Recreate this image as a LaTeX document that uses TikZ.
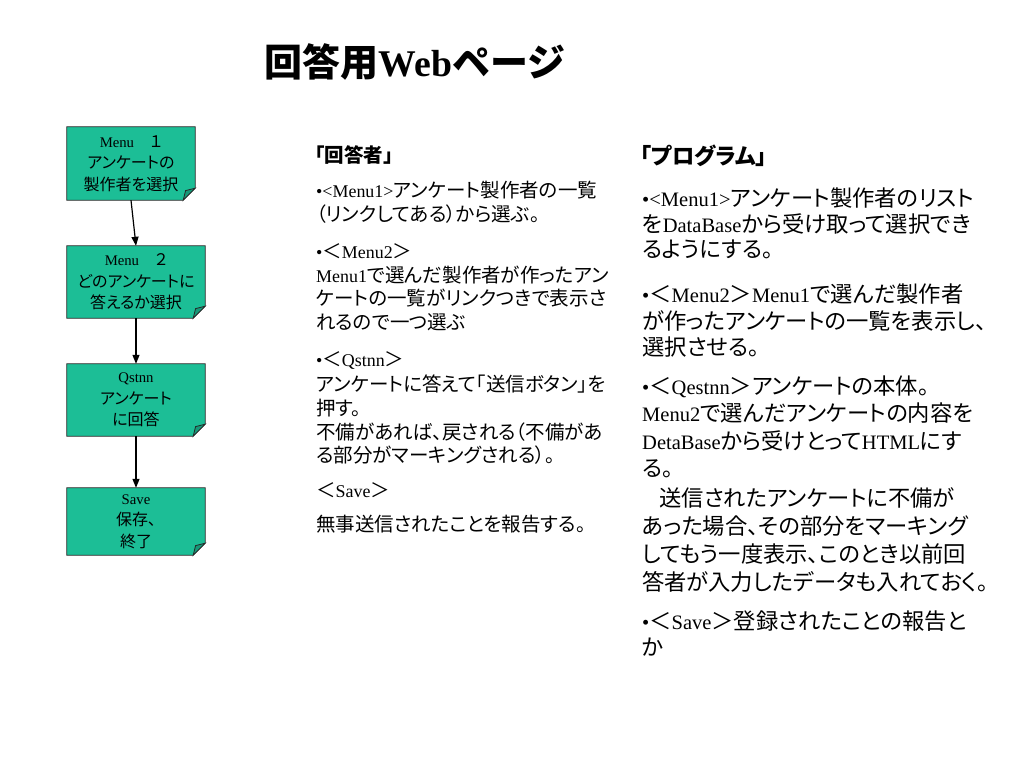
\documentclass[tikz,border=0pt]{standalone}
\usepackage{fontspec}
\setmainfont{Liberation Serif}[Scale=0.92]
\newfontfamily\jpfontP[RawFeature=+palt]{Noto Sans CJK JP}
\newfontfamily\jpfontM{Noto Sans CJK JP}
\let\jpfontcur\jpfontP
\usetikzlibrary{arrows.meta,backgrounds}
% automatic switching between Latin (serif) and Japanese (gothic)
\XeTeXinterchartokenstate=1
\newXeTeXintercharclass\cjkcls
\newcount\cjkc
\def\setcjkrange#1#2{\cjkc=#1 \loop\XeTeXcharclass\cjkc=\cjkcls\relax\ifnum\cjkc<#2 \advance\cjkc by 1 \repeat}
\setcjkrange{"3000}{"30FF}
\setcjkrange{"4E00}{"9FFF}
\setcjkrange{"FF00}{"FFEF}
\XeTeXinterchartoks 0 \cjkcls = {\jpfontcur}
\XeTeXinterchartoks 4095 \cjkcls = {\jpfontcur}
\XeTeXinterchartoks \cjkcls 0 = {\rmfamily}
\XeTeXinterchartoks 4095 0 = {\rmfamily}
\definecolor{boxteal}{RGB}{28,190,150}
\definecolor{foldteal}{RGB}{22,152,120}
\begin{document}
\begin{tikzpicture}[x=1pt,y=-1pt,
  box/.style={inner sep=0pt, align=center, font=\fontsize{16pt}{21.5pt}\selectfont},
  boxline/.style={fill=boxteal, draw=black!85, line width=0.8pt},
  foldline/.style={fill=foldteal, draw=black!85, line width=0.8pt},
  arr/.style={-{Triangle[length=9pt,width=7pt]}, line width=1.2pt},
  mid/.style={anchor=west, inner sep=0pt, font=\fontsize{19.5pt}{24pt}\selectfont, text height=17.2pt, text depth=2.3pt},
  rt/.style={anchor=west, inner sep=0pt, font=\fontsize{22.3pt}{27pt}\selectfont, text height=19.6pt, text depth=2.7pt},
  ttl/.style={inner sep=0pt, font=\let\jpfontcur\jpfontM\fontsize{38pt}{44pt}\selectfont\bfseries}]
\begin{scope}[on background layer]
\fill[white] (0,0) rectangle (1024,768);
\end{scope}
\useasboundingbox (0,0) rectangle (1024,768);

% title
\node[ttl] (title) at (415,62) {回答用{\fontsize{41pt}{44pt}\selectfont Web}ページ};

% flow boxes
\node[box, minimum width=128pt, minimum height=73pt] (b1) at (131,163.5) {Menu　１\\アンケートの\\製作者を選択};
\node[box, minimum width=138pt, minimum height=72pt] (b2) at (136,282) {Menu　２\\どのアンケートに\\答えるか選択};
\node[box, minimum width=138pt, minimum height=72pt] (b3) at (136,400) {Qstnn\\アンケート\\に回答};
\node[box, minimum width=138pt, minimum height=67pt] (b4) at (136,521.5) {Save\\保存、\\終了};
\begin{scope}[on background layer]
\foreach \n in {b1,b2,b3,b4} {
  \draw[boxline] (\n.north west) -- (\n.north east) -- ([yshift=12pt]\n.south east)
     -- ([xshift=-12pt]\n.south east) -- (\n.south west) -- cycle;
  \draw[foldline] ([xshift=-12pt]\n.south east) -- ([xshift=-9.6pt,yshift=9.6pt]\n.south east)
     -- ([yshift=12pt]\n.south east) -- cycle;
}
\end{scope}
\draw[arr] (b1.south) -- (b2.north);
\draw[arr] (b2.south) -- (b3.north);
\draw[arr] (b3.south) -- (b4.north);

% middle column
\node[mid] (m0) at (315,155) {\bfseries 「回答者」};
\node[mid] (m1) at (316,190) {•<Menu1>アンケート製作者の一覧};
\node[mid] (m2) at (316,214) {（リンクしてある）から選ぶ。};
\node[mid] (m3) at (316,251) {•＜Menu2＞};
\node[mid] (m4) at (316,275) {Menu1で選んだ製作者が作ったアン};
\node[mid] (m5) at (316,298) {ケートの一覧がリンクつきで表示さ};
\node[mid] (m6) at (316,322) {れるので一つ選ぶ};
\node[mid] (m7) at (316,359) {•＜Qstnn＞};
\node[mid] (m8) at (316,384) {アンケートに答えて「送信ボタン」を};
\node[mid] (m9) at (316,408) {押す。};
\node[mid] (m10) at (316,432) {不備があれば、戻される（不備があ};
\node[mid] (m11) at (316,455) {る部分がマーキングされる）。};
\node[mid] (m12) at (316,490) {＜Save＞};
\node[mid] (m13) at (316,524) {無事送信されたことを報告する。};

% right column
\node[rt] (r0) at (640,156) {\bfseries 「プログラム」};
\node[rt] (r1) at (642,198) {•<Menu1>アンケート製作者のリスト};
\node[rt] (r2) at (642,224) {をDataBaseから受け取って選択でき};
\node[rt] (r3) at (642,249) {るようにする。};
\node[rt] (r4) at (642,294) {•＜Menu2＞Menu1で選んだ製作者};
\node[rt] (r5) at (642,321) {が作ったアンケートの一覧を表示し、};
\node[rt] (r6) at (642,347) {選択させる。};
\node[rt] (r7) at (642,386) {•＜Qestnn＞アンケートの本体。};
\node[rt] (r8) at (642,413) {Menu2で選んだアンケートの内容を};
\node[rt] (r9) at (642,441) {DetaBaseから受けとってHTMLにす};
\node[rt] (r10) at (642,468) {る。};
\node[rt] (r11) at (642,498) {\hspace*{17pt}送信されたアンケートに不備が};
\node[rt] (r12) at (642,526) {あった場合、その部分をマーキング};
\node[rt] (r13) at (642,554) {してもう一度表示、このとき以前回};
\node[rt] (r14) at (642,582) {答者が入力したデータも入れておく。};
\node[rt] (r15) at (642,621) {•＜Save＞登録されたことの報告と};
\node[rt] (r16) at (642,647) {か};
\end{tikzpicture}
\end{document}
